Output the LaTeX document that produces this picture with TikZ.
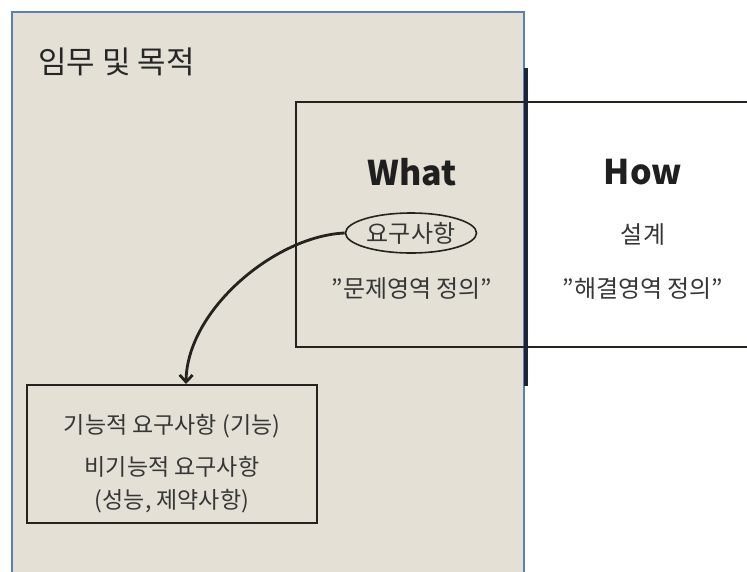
\documentclass[tikz,border=0pt]{standalone}
\usepackage{fontspec}
\setmainfont{Noto Sans CJK KR}
\usetikzlibrary{arrows.meta,shapes.geometric}
\definecolor{beige}{HTML}{E4E0D6}
\definecolor{bluebd}{HTML}{5A7FB0}
\definecolor{darkln}{HTML}{25231E}
\definecolor{navy}{HTML}{1A2638}
\definecolor{txt}{HTML}{363636}
\begin{document}
\begin{tikzpicture}[x=1pt,y=-1pt,
  lbl/.style={font=\fontsize{24}{28}\selectfont, text=txt, inner sep=0pt},
  big/.style={font=\fontsize{34}{38}\selectfont\bfseries, text=black!88, inner sep=0pt},
  frame/.style={draw=darkln, line width=1.8pt, outer sep=0pt}]
\useasboundingbox (0,0) rectangle (747,571);
\clip (0,0) rectangle (747,571);
% mission box
\node[draw=bluebd, line width=1.6pt, fill=beige, minimum width=512pt, minimum height=580pt, anchor=north west, inner sep=0pt] (mission) at (11,11) {};
\node[anchor=west, inner sep=0pt, font=\fontsize{31}{36}\selectfont, text=black!85] (title) at (38,62) {임무 및 목적};
% what / how
\node[frame, minimum width=230pt, minimum height=245pt, anchor=north west, inner sep=0pt] (what) at (296,102) {};
\coordinate (htop) at (747,102);
\coordinate (hbot) at (747,347);
\draw[frame] (what.north east) -- (htop);
\draw[frame] (what.south east) -- (hbot);
\coordinate (vtop) at (526,68);
\coordinate (vbot) at (526,386);
\draw[navy, line width=3.6pt] (vtop) -- (vbot);
\node[big] (whatt) at (412,172) {What};
\node[big] (howt) at (643,172) {How};
\node[draw=darkln, line width=1.6pt, ellipse, minimum width=131pt, minimum height=40pt, inner sep=0pt] (req) at (411,233) {};
\node[lbl] (reqt) at (req.center) {요구사항};
\node[lbl] (design) at (643,235) {설계};
\node[lbl] (prob) at (412,289) {"문제영역 정의"};
\node[lbl] (sol) at (643,289) {"해결영역 정의"};
% requirement box
\node[frame, minimum width=290pt, minimum height=138pt, anchor=north west, inner sep=0pt] (fr) at (27,385) {};
\node[lbl, font=\fontsize{23}{27}\selectfont] (l1) at (172,426) {기능적 요구사항 (기능)};
\node[lbl, font=\fontsize{23}{27}\selectfont] (l2) at (172,467) {비기능적 요구사항};
\node[lbl, font=\fontsize{23}{27}\selectfont] (l3) at (172,501) {(성능, 제약사항)};
\coordinate (tip) at (186,384);
\draw[darkln, line width=2.8pt, -{Straight Barb[length=7pt,width=13pt]}] (req.west) .. controls (275,236) and (187,310) .. (tip);
\end{tikzpicture}
\end{document}
